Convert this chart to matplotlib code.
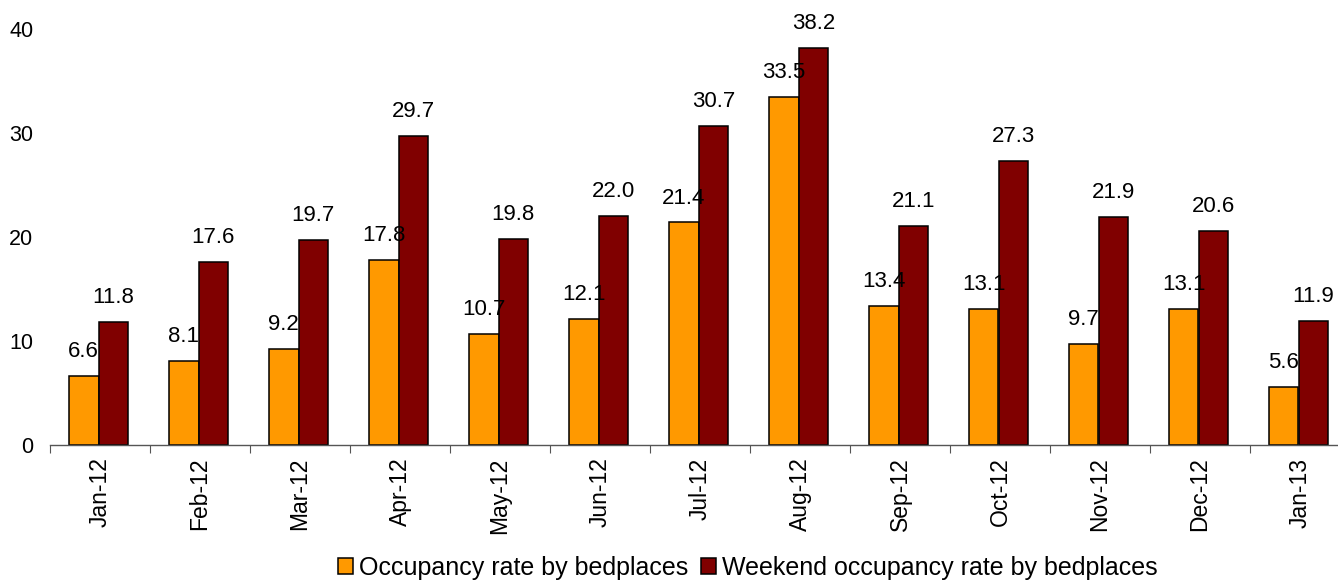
import matplotlib
matplotlib.use("Agg")
import matplotlib.pyplot as plt
import numpy as np

categories = ["Jan-12", "Feb-12", "Mar-12", "Apr-12", "May-12", "Jun-12", "Jul-12",
              "Aug-12", "Sep-12", "Oct-12", "Nov-12", "Dec-12", "Jan-13"]
occupancy = [6.6, 8.1, 9.2, 17.8, 10.7, 12.1, 21.4, 33.5, 13.4, 13.1, 9.7, 13.1, 5.6]
weekend = [11.8, 17.6, 19.7, 29.7, 19.8, 22.0, 30.7, 38.2, 21.1, 27.3, 21.9, 20.6, 11.9]
series_names = ["Occupancy rate by bedplaces", "Weekend occupancy rate by bedplaces"]
yticks = [0, 10, 20, 30, 40]

plt.rcParams['font.family'] = ['Liberation Sans', 'DejaVu Sans']

W, H = 1338, 581
fig = plt.figure(figsize=(W / 100, H / 100), dpi=100)
ax = fig.add_axes([50 / W, (H - 445) / H, 1300 / W, (445 - 29) / H])

x = np.arange(len(categories))
bw = 0.295
b1 = ax.bar(x - bw / 2 - 0.015, occupancy, bw, color="#FF9900", edgecolor="black",
            linewidth=1.1, label=series_names[0])
b2 = ax.bar(x + bw / 2 - 0.015, weekend, bw, color="#800000", edgecolor="black",
            linewidth=1.1, label=series_names[1])

for rects, vals in ((b1, occupancy), (b2, weekend)):
    for r, v in zip(rects, vals):
        ax.annotate(f"{v:.1f}", (r.get_x() + r.get_width() / 2, v),
                    xytext=(0, 10), textcoords="offset points", ha="center", va="bottom",
                    fontsize=16, annotation_clip=False)

ax.set_xlim(-0.5, len(categories) - 0.5)
ax.set_ylim(0, 40)
ax.set_yticks(yticks)
ax.tick_params(axis="y", length=0, pad=12, labelsize=15.5)

ax.set_xticks(np.arange(len(categories) + 1) - 0.5)
ax.set_xticklabels([])
ax.tick_params(axis="x", which="major", length=6, direction="out", color="#555555")
ax.set_xticks(x, minor=True)
ax.set_xticklabels(categories, minor=True, rotation=90, fontsize=16.5)
ax.tick_params(axis="x", which="minor", length=0, pad=9)

for s in ("top", "right", "left"):
    ax.spines[s].set_visible(False)
ax.spines["bottom"].set_color("#555555")
ax.spines["bottom"].set_linewidth(1.0)

leg = fig.legend(loc="center", bbox_to_anchor=(748 / W, (H - 568) / H), ncol=2, frameon=False,
                 fontsize=18, handlelength=0.6, handleheight=0.6, handletextpad=0.25,
                 columnspacing=0.5, borderaxespad=0, borderpad=0)

fig.savefig("out.png", dpi=100)
